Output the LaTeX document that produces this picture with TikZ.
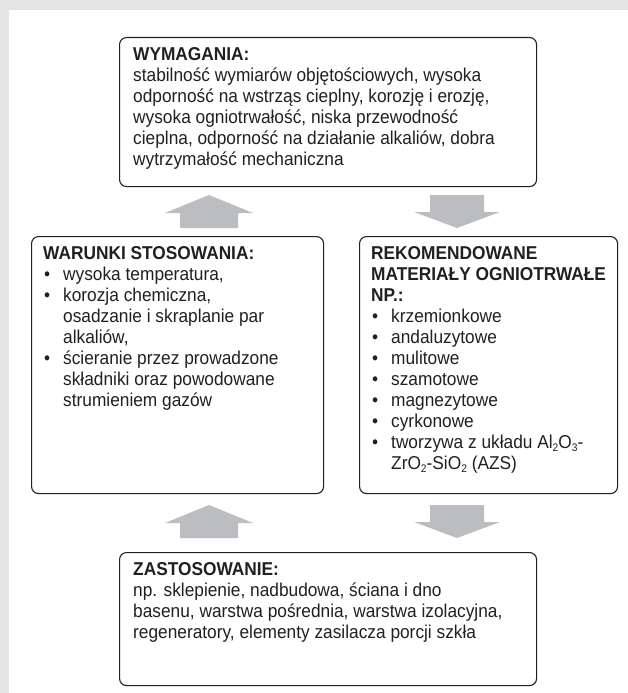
\documentclass[tikz,border=0pt]{standalone}
\usepackage{fontspec}
\setmainfont[FakeStretch=0.93]{Liberation Sans}
\usetikzlibrary{calc}
\definecolor{bggray}{HTML}{E4E4E2}
\definecolor{arrowgray}{HTML}{BCBDC0}
\definecolor{boxline}{HTML}{231F20}
\tikzset{
  box/.style={draw=boxline, line width=1.1bp, rounded corners=7bp, fill=white, anchor=north west, inner sep=0pt},
  txt/.style={anchor=north west, inner sep=0pt, align=left, text=boxline,
    font=\fontsize{18.6bp}{21bp}\selectfont},
  blockarrow/.style={fill=arrowgray, draw=none},
}
\newcommand{\bul}{\makebox[20bp][l]{\hspace*{1bp}\textbullet}}
\newcommand{\ind}{\hspace*{20bp}}
\newcommand{\subs}[1]{\raisebox{-3bp}{\fontsize{11bp}{11bp}\selectfont #1}}
\begin{document}
\begin{tikzpicture}[x=1bp,y=-1bp]
\useasboundingbox (0,0) rectangle (628,693);
\fill[bggray] (0,0) rectangle (628,693);
\fill[white] (9,10) rectangle (628,693);

% boxes
\node[box, minimum width=417bp, minimum height=149bp] (req) at (119,37) {};
\node[box, minimum width=292bp, minimum height=257bp] (cond) at (31,236) {};
\node[box, minimum width=258bp, minimum height=257bp] (mat) at (359,236) {};
\node[box, minimum width=417bp, minimum height=133bp] (app) at (119,552) {};

% texts
\node[txt] (reqt) at ($(req.north west)+(14,10)$) {\textbf{WYMAGANIA:}\\
stabilność wymiarów objętościowych, wysoka\\
odporność na wstrząs cieplny, korozję i erozję,\\
wysoka ogniotrwałość, niska przewodność\\
cieplna, odporność na działanie alkaliów, dobra\\
wytrzymałość mechaniczna};

\node[txt] (condt) at ($(cond.north west)+(12,10)$) {\textbf{WARUNKI STOSOWANIA:}\\
\bul wysoka temperatura,\\
\bul korozja chemiczna,\\
\ind osadzanie i skraplanie par\\
\ind alkaliów,\\
\bul ścieranie przez prowadzone\\
\ind składniki oraz powodowane\\
\ind strumieniem gazów};

\node[txt] (matt) at ($(mat.north west)+(12,10)$) {\textbf{REKOMENDOWANE}\\
\textbf{MATERIAŁY OGNIOTRWAŁE}\\
\textbf{NP.:}\\
\bul krzemionkowe\\
\bul andaluzytowe\\
\bul mulitowe\\
\bul szamotowe\\
\bul magnezytowe\\
\bul cyrkonowe\\
\bul tworzywa z układu Al\subs{2}O\subs{3}-\\
\ind ZrO\subs{2}-SiO\subs{2} (AZS)};

\node[txt] (appt) at ($(app.north west)+(14,10)$) {\textbf{ZASTOSOWANIE:}\\
np. sklepienie, nadbudowa, ściana i dno\\
basenu, warstwa pośrednia, warstwa izolacyjna,\\
regeneratory, elementy zasilacza porcji szkła};

% block arrows (up: cond -> req, down: req -> mat, up: app -> cond, down: mat -> app)
\coordinate (u1) at (209,195);
\coordinate (d1) at (457,195);
\coordinate (u2) at (209,505);
\coordinate (d2) at (457,505);
\foreach \c in {u1,u2}{
  \fill[blockarrow] ($(\c)+(0,0)$) -- ($(\c)+(44,18)$) -- ($(\c)+(29,18)$) -- ($(\c)+(29,33)$)
    -- ($(\c)+(-29,33)$) -- ($(\c)+(-29,18)$) -- ($(\c)+(-44,18)$) -- cycle;
}
\foreach \c in {d1,d2}{
  \fill[blockarrow] ($(\c)+(-27,0)$) -- ($(\c)+(27,0)$) -- ($(\c)+(27,17)$) -- ($(\c)+(43,17)$)
    -- ($(\c)+(0,33)$) -- ($(\c)+(-43,17)$) -- ($(\c)+(-27,17)$) -- cycle;
}
\end{tikzpicture}
\end{document}
